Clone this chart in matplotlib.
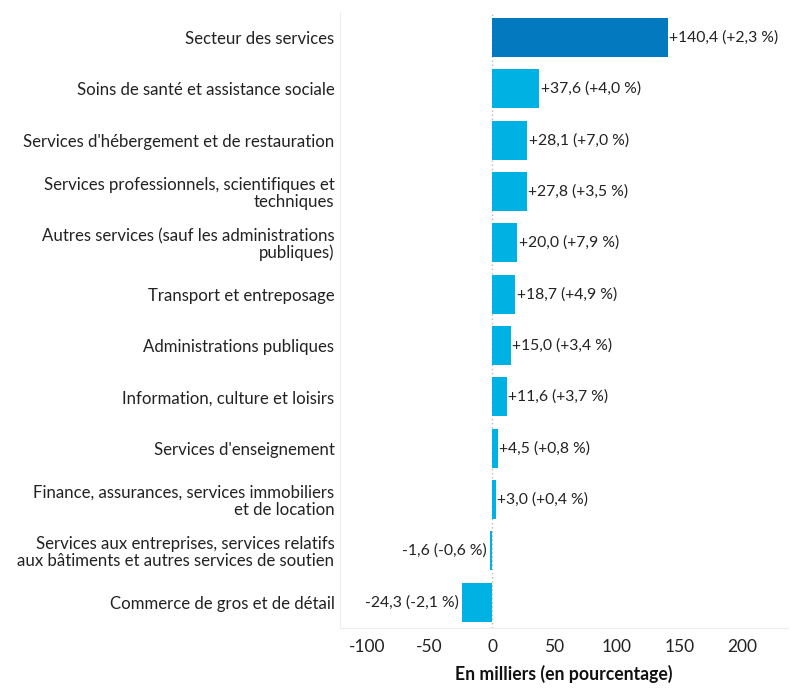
import numpy as np
import matplotlib
matplotlib.use('Agg')
import matplotlib.pyplot as plt

plt.rcParams['font.family'] = ['Lato', 'DejaVu Sans']

categories = [
    'Secteur des services',
    'Soins de santé et assistance sociale',
    "Services d'hébergement et de restauration",
    'Services professionnels, scientifiques et\ntechniques',
    'Autres services (sauf les administrations\npubliques)',
    'Transport et entreposage',
    'Administrations publiques',
    'Information, culture et loisirs',
    "Services d'enseignement",
    'Finance, assurances, services immobiliers\net de location',
    'Services aux entreprises, services relatifs\naux bâtiments et autres services de soutien',
    'Commerce de gros et de détail',
]
values = [140.4, 37.6, 28.1, 27.8, 20.0, 18.7, 15.0, 11.6, 4.5, 3.0, -1.6, -24.3]
percents = [2.3, 4.0, 7.0, 3.5, 7.9, 4.9, 3.4, 3.7, 0.8, 0.4, -0.6, -2.1]
ticks = [-100, -50, 0, 50, 100, 150, 200]


def fmt(v):
    return '{:+.1f}'.format(v).replace('.', ',')


fig = plt.figure(figsize=(8, 7), dpi=100)
ax = fig.add_axes([0.425, 0.103, 0.56, 0.88])

y = np.arange(len(categories))
colors = ['#0379bf'] + ['#00b2e3'] * (len(categories) - 1)
ax.barh(y, values, height=0.76, color=colors, zorder=2)

for yi, v, p in zip(y, values, percents):
    label = '{} ({} %)'.format(fmt(v), fmt(p))
    if v >= 0:
        ax.text(v + 1.2, yi, label, va='center', ha='left', fontsize=11.3, color='#222222')
    else:
        ax.text(v - 2.5, yi, label, va='center', ha='right', fontsize=11.3, color='#222222')

ax.axvline(0, color='#bbbbbb', linestyle=(0, (1, 2)), linewidth=1, zorder=1)

ax.set_ylim(len(categories) - 0.5, -0.5)
ax.set_xlim(-121.6, 236.8)
ax.set_yticks(y)
ax.set_yticklabels(categories, fontsize=12.1, color='#222222', linespacing=1.05)
ax.set_xticks(ticks)
ax.set_xticklabels([str(t) for t in ticks], fontsize=12.5, color='#222222')
ax.tick_params(axis='y', length=0, pad=4)
ax.tick_params(axis='x', length=0, pad=8)
for lab in ax.get_yticklabels():
    lab.set_horizontalalignment('right')
    lab.set_multialignment('right')

for side in ['top', 'right']:
    ax.spines[side].set_visible(False)
ax.spines['left'].set_color('#eeeeee')
ax.spines['bottom'].set_color('#eeeeee')

ax.set_xlabel('En milliers (en pourcentage)', fontsize=12.7, fontweight='bold',
              color='#111111', labelpad=7)

fig.savefig('out.png')
